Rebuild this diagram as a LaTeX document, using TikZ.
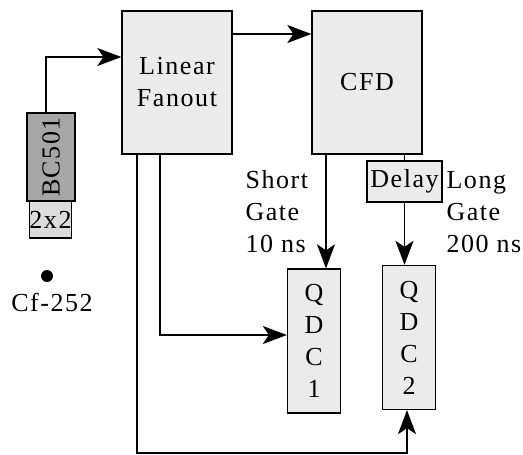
\documentclass[tikz,border=0pt]{standalone}
\usepackage{fontspec}
\setmainfont{Liberation Serif}[LetterSpace=6]
\usepackage{tikz}
\usetikzlibrary{arrows.meta, positioning, calc}
\definecolor{boxgray}{HTML}{EBEBEB}
\definecolor{darkgray}{HTML}{A6A6A6}
\definecolor{midgray}{HTML}{DCDCDC}
\tikzset{
	unitbox/.style={draw, line width=1.3pt, fill=boxgray, inner sep=0pt, align=center},
	sigarr/.style={-{Stealth[length=24pt, width=18pt, inset=6pt]}, line width=1.3pt},
	sigline/.style={line width=1.3pt},
}

\begin{document}
\begin{tikzpicture}[
				x=1pt, y=-1pt,
				font=\rmfamily\fontsize{26}{32}\selectfont,
				qdc/.style={unitbox, minimum width=53pt, minimum height=144pt}
				]
				\useasboundingbox (0,0) rectangle (523,455);
				% modules
				\node[unitbox, minimum width=110pt, minimum height=143pt] (fanout) at (177,82.5) {Linear\\Fanout};
				\node[unitbox, minimum width=110pt, minimum height=143pt] (cfd) at (367,82.5) {CFD};
				\node[unitbox, minimum width=75pt, minimum height=41pt] (delay) at (404.5,181.5) {Delay};
				\node[qdc] (qdcA) at (314,341) {Q\\D\\C\\1};
				\node[qdc] (qdcB) at (409,337.5) {Q\\D\\C\\2};
				% detector and source
				\node[unitbox, fill=darkgray, minimum width=48pt, minimum height=88pt] (bc) at (51,157) {\rotatebox{90}{BC501}};
				\node[unitbox, fill=midgray, minimum width=41pt, minimum height=37pt] (xtal) at (50.5,219.5) {2x2};
				\fill (47,276) circle (6pt) coordinate (src);
				\node (srclbl) at (52,302) {Cf-252};
				\node[anchor=west, align=left] (short) at (242,212) {Short\\Gate\\10 ns};
				\node[anchor=west, align=left] (long) at (443,212) {Long\\Gate\\200 ns};
				\coordinate (ret) at (0,453);
				% signals
				\draw[sigarr] ([xshift=-5pt]bc.north) |- ([yshift=25.5pt]fanout.west);
				\draw[sigarr] ([yshift=48.5pt]fanout.east) -- ([yshift=48.5pt]cfd.west);
				\draw[sigarr] ([xshift=-41pt]cfd.south) -- ([xshift=-41pt]cfd.south |- qdcA.north);
				\draw[sigline] (cfd.south -| delay.north) -- (delay.north);
				\draw[sigarr] (delay.south) -- (delay.south |- qdcB.north);
				\draw[sigarr] ([xshift=-17pt]fanout.south) |- ([yshift=6pt]qdcA.west);
				\draw[sigarr] ([xshift=-40pt]fanout.south) |- ([xshift=-2pt]qdcB.south |- ret) -- ([xshift=-2pt]qdcB.south);
			\end{tikzpicture}
\end{document}
